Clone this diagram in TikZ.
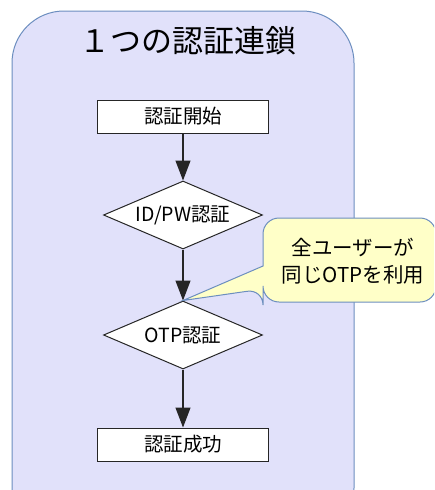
\documentclass[tikz,border=0pt]{standalone}
\usepackage{fontspec}
\setmainfont{Noto Sans CJK JP}
\usetikzlibrary{arrows.meta,shapes.geometric}
\definecolor{groupfill}{HTML}{E1E1FA}
\definecolor{groupline}{HTML}{6C8EBF}
\definecolor{notefill}{HTML}{FFFFC8}
\tikzset{
  stepbox/.style={draw=black!85, line width=1pt, fill=white, minimum width=171pt, minimum height=33pt, inner sep=0pt, font=\fontsize{19.5}{21}\selectfont},
  decide/.style={draw=black!85, line width=1pt, fill=white, diamond, aspect=2.34, minimum width=159pt, minimum height=68pt, inner sep=0pt, font=\fontsize{19.5}{21}\selectfont},
  flow/.style={draw=black!85, line width=1.2pt, -{Triangle[length=20pt,width=15pt]}},
}
\begin{document}
\begin{tikzpicture}[x=1pt,y=-1pt]
\useasboundingbox (0,0) rectangle (434,490);
\begin{scope}
\clip (0,0) rectangle (434,490);
\draw[groupline, fill=groupfill, line width=1pt, rounded corners=52pt] (12,11) rectangle (354,540);
\node (title) at (188,41) {\fontsize{31}{33}\selectfont １つの認証連鎖};
\node[stepbox] (start) at (183,116.5) {認証開始};
\node[decide] (idpw) at (183,215) {ID/PW認証};
\node[decide] (otp) at (183,335) {OTP認証};
\node[stepbox] (ok) at (183,444.5) {認証成功};
\draw[flow] (start) -- (idpw);
\draw[flow] (idpw) -- (otp);
\draw[flow] (otp) -- (ok);
\coordinate (tip) at (otp.north);
\draw[groupline, fill=notefill, line width=1pt, rounded corners=16pt]
  (263,262) -- (263,218) -- (436,218) -- (436,302) -- (263,302) -- (263,289) [sharp corners] -- (tip) -- (263,266) -- cycle;
\node[align=center, font=\fontsize{20.5}{27}\selectfont] (note) at (353,261) {全ユーザーが\\同じOTPを利用};
\end{scope}
\end{tikzpicture}
\end{document}
